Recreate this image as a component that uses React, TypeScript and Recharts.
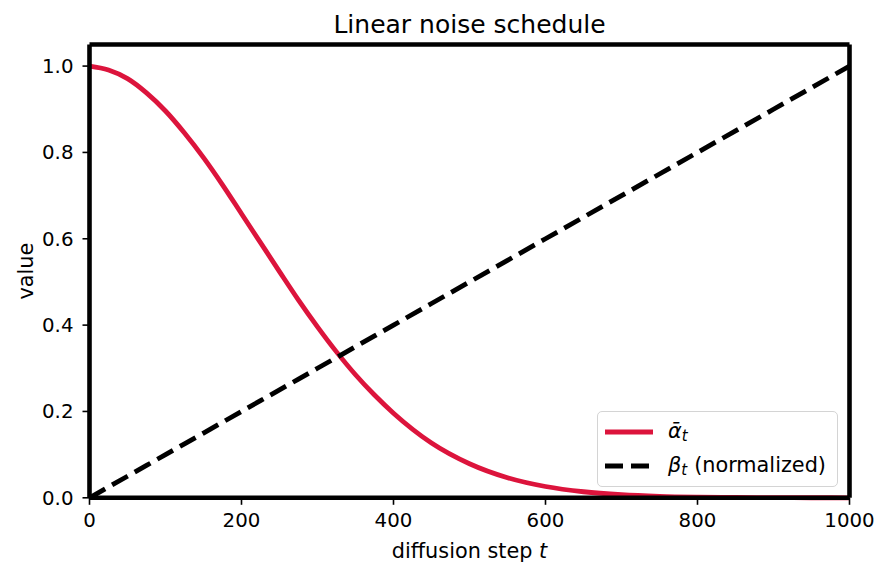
import { LineChart, Line, XAxis, YAxis, Legend, ReferenceLine } from 'recharts';

// diffusion steps sampled along the schedule
const steps = [
  0, 25, 50, 75, 100, 125, 150, 175, 200, 225, 250, 275, 300, 325, 350, 375, 400,
  450, 500, 550, 600, 650, 700, 750, 800, 850, 900, 950, 1000,
];
// cumulative product of (1 - beta) for the linear schedule
const alphaBar = [
  1.0, 0.991, 0.971, 0.938, 0.896, 0.845, 0.788, 0.725, 0.658, 0.591, 0.524, 0.458, 0.396,
  0.338, 0.285, 0.238, 0.196, 0.127, 0.079, 0.0466, 0.0262, 0.014, 0.0071, 0.0034, 0.0016,
  0.0007, 0.0003, 0.0001, 0.00004,
];
// beta scaled to [0, 1]
const betaNorm = [
  0.0, 0.025, 0.05, 0.075, 0.1, 0.125, 0.15, 0.175, 0.2, 0.225, 0.25, 0.275, 0.3, 0.325, 0.35,
  0.375, 0.4, 0.45, 0.5, 0.55, 0.6, 0.65, 0.7, 0.75, 0.8, 0.85, 0.9, 0.95, 1.0,
];
const xTicks = [0, 200, 400, 600, 800, 1000];
const yTicks = [0, 0.2, 0.4, 0.6, 0.8, 1.0];
const X_MAX = 1000;
const Y_MAX = 1.05;

const data = steps.map((t, i) => ({ t, alphaBar: alphaBar[i], beta: betaNorm[i] }));

const FONT = 'DejaVu Sans';
const RED = '#dc143c';
const SPINE = 4.6;
const W = 889;
const H = 577;
const PLOT_LEFT = 89.5;
const PLOT_RIGHT = 849.5;
const PLOT_TOP = 44.5;
const PLOT_BOTTOM = 497.8;
const CX = (PLOT_LEFT + PLOT_RIGHT) / 2;
const CY = (PLOT_TOP + PLOT_BOTTOM) / 2;

const tickStyle = { fill: '#000', fontSize: 19.8, fontFamily: FONT };

function Title() {
  return (
    <text x={CX} y={33} textAnchor="middle" fontSize={25} fontFamily={FONT} fill="#000">
      Linear noise schedule
    </text>
  );
}

function XTitle() {
  return (
    <text x={CX} y={557.5} textAnchor="middle" fontSize={20.8} fontFamily={FONT} fill="#000">
      diffusion step <tspan fontStyle="italic">t</tspan>
    </text>
  );
}

function YTitle() {
  return (
    <text
      x={33}
      y={CY}
      transform={`rotate(-90, 33, ${CY})`}
      textAnchor="middle"
      fontSize={20.8}
      fontFamily={FONT}
      fill="#000"
    >
      value
    </text>
  );
}

function Sub({ children }: { children: string }) {
  return (
    <span style={{ fontStyle: 'italic', fontSize: '0.72em', position: 'relative', top: '0.25em' }}>
      {children}
    </span>
  );
}

function LegendBox() {
  const row = (top: number, dash: string | undefined, stroke: string, label: React.ReactNode) => (
    <div style={{ position: 'absolute', left: 0, top, height: 0, width: '100%' }}>
      <svg
        width={48}
        height={10}
        style={{ position: 'absolute', left: 7, top: -5, overflow: 'visible' }}
      >
        <line x1={0} y1={5} x2={48} y2={5} stroke={stroke} strokeWidth={4.8} strokeDasharray={dash} />
      </svg>
      <div
        style={{
          position: 'absolute',
          left: 70,
          top: -13,
          lineHeight: '24px',
          fontSize: 20.8,
          whiteSpace: 'nowrap',
          color: '#000',
        }}
      >
        {label}
      </div>
    </div>
  );
  return (
    <div
      style={{
        position: 'relative',
        width: 241,
        height: 76,
        boxSizing: 'border-box',
        border: '1.5px solid #d4d4d4',
        borderRadius: 5,
        background: 'rgba(255,255,255,0.8)',
        fontFamily: FONT,
      }}
    >
      {row(20, undefined, RED, (
        <span>
          <span style={{ fontStyle: 'italic' }}>{'\u1FB1'}</span>
          <Sub>t</Sub>
        </span>
      ))}
      {row(54, '18 8', '#000', (
        <span>
          <span style={{ fontStyle: 'italic' }}>{'\u03B2'}</span>
          <Sub>t</Sub>
          <span style={{ marginLeft: 7 }}>(normalized)</span>
        </span>
      ))}
    </div>
  );
}

export default function App() {
  return (
    <div style={{ position: 'absolute', left: 0, top: 0, width: W, height: H, background: '#fff' }}>
      <LineChart
        width={W}
        height={H}
        data={data}
        margin={{ top: PLOT_TOP, right: W - PLOT_RIGHT, bottom: H - PLOT_BOTTOM - 45, left: PLOT_LEFT - 60 }}
      >
        <XAxis
          dataKey="t"
          type="number"
          domain={[0, X_MAX]}
          ticks={xTicks}
          height={45}
          tick={tickStyle}
          tickSize={7}
          tickMargin={8}
          tickLine={{ stroke: '#000', strokeWidth: 1.6 }}
          axisLine={{ stroke: '#000', strokeWidth: SPINE }}
          label={<XTitle />}
        />
        <YAxis
          type="number"
          domain={[0, Y_MAX]}
          ticks={yTicks}
          width={60}
          tick={tickStyle}
          tickSize={7}
          tickMargin={9}
          tickFormatter={(v: number) => v.toFixed(1)}
          tickLine={{ stroke: '#000', strokeWidth: 1.6 }}
          axisLine={{ stroke: '#000', strokeWidth: SPINE }}
          label={<YTitle />}
        />
        <Line
          dataKey="alphaBar"
          type="monotone"
          stroke={RED}
          strokeWidth={4.8}
          dot={false}
          activeDot={false}
          isAnimationActive={false}
        />
        <Line
          dataKey="beta"
          type="linear"
          stroke="#000"
          strokeWidth={4.8}
          strokeDasharray="18 8"
          dot={false}
          activeDot={false}
          isAnimationActive={false}
        />
        {/* top and right spines, title rides on the top one */}
        <ReferenceLine y={Y_MAX} stroke="#000" strokeWidth={SPINE} label={<Title />} />
        <ReferenceLine x={X_MAX} stroke="#000" strokeWidth={SPINE} />
        <Legend
          layout="horizontal"
          verticalAlign="middle"
          align="center"
          content={<LegendBox />}
          wrapperStyle={{ left: 597, top: 410.5, width: 241, height: 76 }}
        />
      </LineChart>
    </div>
  );
}
